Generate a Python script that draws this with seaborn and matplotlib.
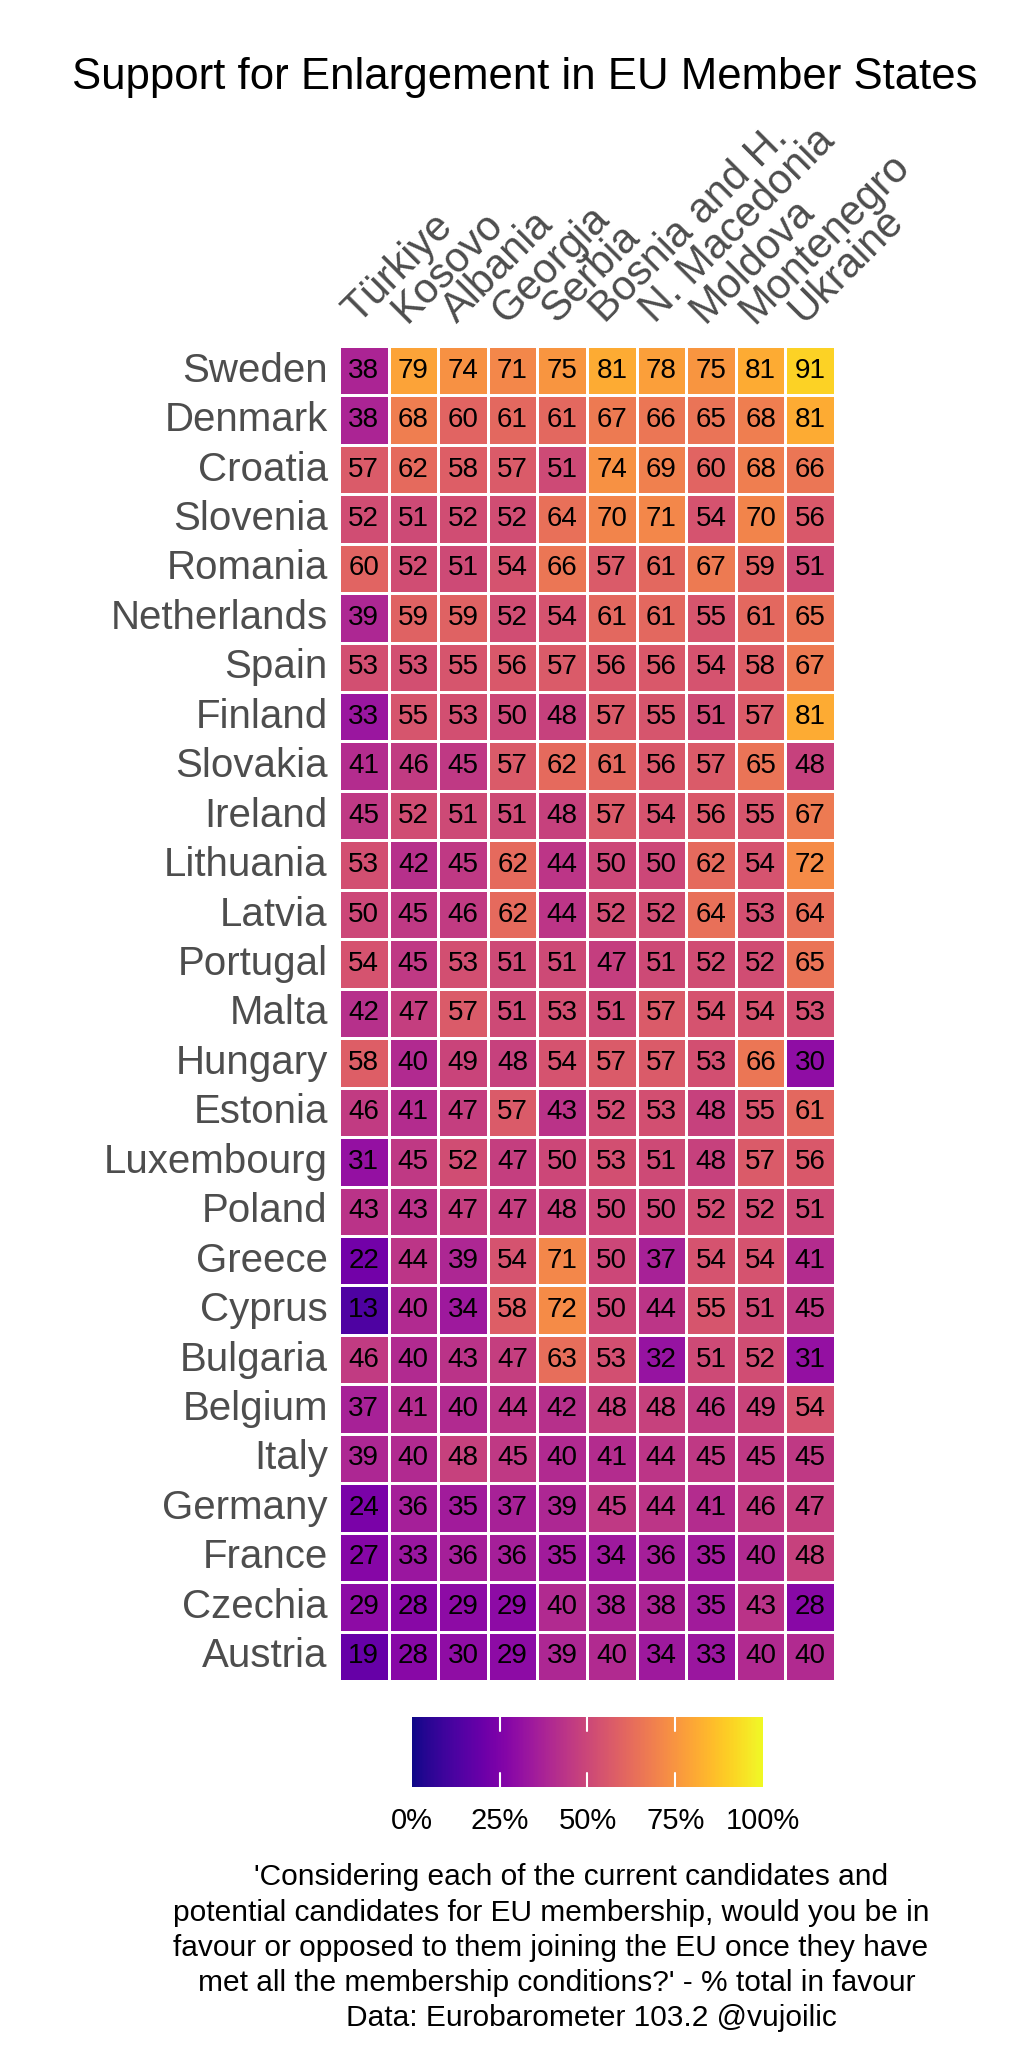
import numpy as np
import pandas as pd
import matplotlib
matplotlib.use("Agg")
import matplotlib.pyplot as plt
import seaborn as sns

sns.set_theme(style="white")
plt.rcParams['font.family'] = ['Liberation Sans', 'DejaVu Sans']

candidates = ["Türkiye", "Kosovo", "Albania", "Georgia", "Serbia",
              "Bosnia and H.", "N. Macedonia", "Moldova", "Montenegro", "Ukraine"]

members = ["Sweden", "Denmark", "Croatia", "Slovenia", "Romania", "Netherlands",
           "Spain", "Finland", "Slovakia", "Ireland", "Lithuania", "Latvia",
           "Portugal", "Malta", "Hungary", "Estonia", "Luxembourg", "Poland",
           "Greece", "Cyprus", "Bulgaria", "Belgium", "Italy", "Germany",
           "France", "Czechia", "Austria"]

# % in favour, one row per member state (columns follow `candidates`)
sweden      = [38, 79, 74, 71, 75, 81, 78, 75, 81, 91]
denmark     = [38, 68, 60, 61, 61, 67, 66, 65, 68, 81]
croatia     = [57, 62, 58, 57, 51, 74, 69, 60, 68, 66]
slovenia    = [52, 51, 52, 52, 64, 70, 71, 54, 70, 56]
romania     = [60, 52, 51, 54, 66, 57, 61, 67, 59, 51]
netherlands = [39, 59, 59, 52, 54, 61, 61, 55, 61, 65]
spain       = [53, 53, 55, 56, 57, 56, 56, 54, 58, 67]
finland     = [33, 55, 53, 50, 48, 57, 55, 51, 57, 81]
slovakia    = [41, 46, 45, 57, 62, 61, 56, 57, 65, 48]
ireland     = [45, 52, 51, 51, 48, 57, 54, 56, 55, 67]
lithuania   = [53, 42, 45, 62, 44, 50, 50, 62, 54, 72]
latvia      = [50, 45, 46, 62, 44, 52, 52, 64, 53, 64]
portugal    = [54, 45, 53, 51, 51, 47, 51, 52, 52, 65]
malta       = [42, 47, 57, 51, 53, 51, 57, 54, 54, 53]
hungary     = [58, 40, 49, 48, 54, 57, 57, 53, 66, 30]
estonia     = [46, 41, 47, 57, 43, 52, 53, 48, 55, 61]
luxembourg  = [31, 45, 52, 47, 50, 53, 51, 48, 57, 56]
poland      = [43, 43, 47, 47, 48, 50, 50, 52, 52, 51]
greece      = [22, 44, 39, 54, 71, 50, 37, 54, 54, 41]
cyprus      = [13, 40, 34, 58, 72, 50, 44, 55, 51, 45]
bulgaria    = [46, 40, 43, 47, 63, 53, 32, 51, 52, 31]
belgium     = [37, 41, 40, 44, 42, 48, 48, 46, 49, 54]
italy       = [39, 40, 48, 45, 40, 41, 44, 45, 45, 45]
germany     = [24, 36, 35, 37, 39, 45, 44, 41, 46, 47]
france      = [27, 33, 36, 36, 35, 34, 36, 35, 40, 48]
czechia     = [29, 28, 29, 29, 40, 38, 38, 35, 43, 28]
austria     = [19, 28, 30, 29, 39, 40, 34, 33, 40, 40]

rows = [sweden, denmark, croatia, slovenia, romania, netherlands, spain, finland,
        slovakia, ireland, lithuania, latvia, portugal, malta, hungary, estonia,
        luxembourg, poland, greece, cyprus, bulgaria, belgium, italy, germany,
        france, czechia, austria]

cbar_ticks = [0, 25, 50, 75, 100]
cbar_labels = ["0%", "25%", "50%", "75%", "100%"]

caption_lines = [
    "'Considering each of the current candidates and",
    "potential candidates for EU membership, would you be in",
    "favour or opposed to them joining the EU once they have",
    "met all the membership conditions?' - % total in favour",
    "Data: Eurobarometer 103.2 @vujoilic",
]

df = pd.DataFrame(rows, index=members, columns=candidates)

fig = plt.figure(figsize=(10.24, 20.48), dpi=100)
ax = fig.add_axes([0.331, 0.1792, 0.4844, 0.6519])
cax = fig.add_axes([0.4023, 0.1274, 0.3428, 0.0342])

sns.heatmap(df, ax=ax, cmap="plasma", vmin=0, vmax=100,
            annot=True, fmt="d", annot_kws={"size": 20, "color": "black"},
            linewidths=1.0, linecolor="white",
            cbar_ax=cax, cbar_kws={"orientation": "horizontal", "ticks": cbar_ticks})

# column labels on top, slanted
ax.xaxis.tick_top()
ax.set_xticklabels(candidates, rotation=45, ha="left", va="bottom",
                   rotation_mode="anchor", fontsize=30, color="#4d4d4d")
ax.tick_params(axis="x", length=0, pad=11)
ax.set_yticklabels(members, rotation=0, fontsize=29, color="#4d4d4d")
ax.tick_params(axis="y", length=0, pad=8)
ax.set_xlabel("")
ax.set_ylabel("")

# colorbar styling
cbar = ax.collections[0].colorbar
cbar.outline.set_visible(False)
cbar.set_ticklabels(cbar_labels)
cax.tick_params(length=0, labelsize=21, pad=14, colors="black")
for t in cbar_ticks[1:-1]:
    cax.axvline(t, ymin=0, ymax=0.2, color="white", lw=1.5)
    cax.axvline(t, ymin=0.8, ymax=1, color="white", lw=1.5)

fig.text(0.512, 1 - 77 / 2048, "Support for Enlargement in EU Member States",
         ha="center", va="center", fontsize=31.5, color="black")

caption_y = [1877, 1913, 1948, 1983, 2018]
caption_x = [571, 551, 551, 557, 591]
for line, x, y in zip(caption_lines, caption_x, caption_y):
    fig.text(x / 1024, 1 - y / 2048, line, ha="center", va="center",
             fontsize=21.5, color="black")

fig.savefig("out.png", dpi=100)
